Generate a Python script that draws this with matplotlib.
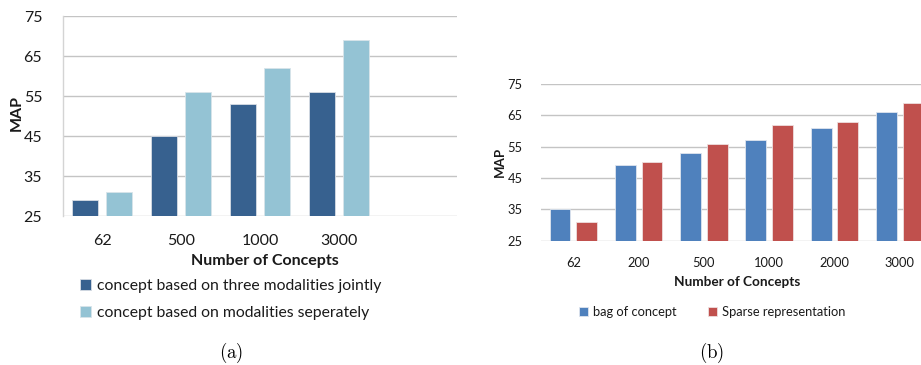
import matplotlib
matplotlib.use("Agg")
import matplotlib.pyplot as plt
import numpy as np

plt.rcParams["font.family"] = ["Lato", "DejaVu Sans"]
plt.rcParams["mathtext.fontset"] = "cm"

# (a) concepts built jointly vs. separately per modality
cats_a = ["62", "500", "1000", "3000", ""]
joint = [29, 45, 53, 56]
separate = [31, 56, 62, 69]
labels_a = ["concept based on three modalities jointly",
            "concept based on modalities seperately"]

# (b) bag of concept vs. sparse representation
cats_b = ["62", "200", "500", "1000", "2000", "3000"]
bag = [35, 49, 53, 57, 61, 66]
sparse = [31, 50, 56, 62, 63, 69]
labels_b = ["bag of concept", "Sparse representation"]

yticks = [25, 35, 45, 55, 65, 75]

W, H = 921, 365
fig = plt.figure(figsize=(W / 100, H / 100), dpi=100)
TXT = "#1a1a1a"


def px_axes(left, right, top, bottom):
    return fig.add_axes([left / W, 1 - bottom / H, (right - left) / W, (bottom - top) / H])


def style(ax, ncat, tick_size, pad, ypad, show_left):
    ax.set_ylim(25, 75)
    ax.set_xlim(-0.5, ncat - 0.5)
    ax.set_yticks(yticks)
    ax.yaxis.grid(True, color="#c4c4c4", linewidth=1.0)
    ax.set_axisbelow(True)
    for s in ["top", "right", "bottom"]:
        ax.spines[s].set_visible(False)
    if show_left:
        ax.spines["left"].set_color("#d4d4d4")
        ax.spines["left"].set_linewidth(1.0)
    else:
        ax.spines["left"].set_visible(False)
    ax.tick_params(axis="both", length=0, labelsize=tick_size, colors=TXT)
    ax.tick_params(axis="x", pad=pad)
    ax.tick_params(axis="y", pad=ypad)


# ---- panel (a) ----
ax1 = px_axes(63, 457, 16, 216)
x1 = np.arange(len(joint))
b1 = ax1.bar(x1 - 0.215, np.array(joint) - 25, 0.33, bottom=25, color="#37618f",
             edgecolor="#d8dde4", linewidth=0.6, label=labels_a[0])
b2 = ax1.bar(x1 + 0.215, np.array(separate) - 25, 0.33, bottom=25, color="#94c3d4",
             edgecolor="#d8e4ea", linewidth=0.6, label=labels_a[1])
style(ax1, len(cats_a), 11.5, 13, 15, True)
ax1.set_xticks(np.arange(len(cats_a)))
ax1.set_xticklabels(cats_a)
fig.text(17 / W, 1 - 113 / H, "MAP", rotation=90, fontsize=11.5, fontweight="bold",
         ha="center", va="center", color=TXT)
fig.text(265 / W, 1 - 261 / H, "Number of Concepts", fontsize=11.5, fontweight="bold",
         ha="center", va="center", color=TXT)
ax1.legend(handles=[b1, b2], loc="upper left", bbox_to_anchor=(66 / W, 1 - 265 / H),
           bbox_transform=fig.transFigure, frameon=False, fontsize=11.3,
           handlelength=0.7, handleheight=0.7, handletextpad=0.4, labelspacing=0.85,
           labelcolor=TXT)
fig.text(231 / W, 1 - 353 / H, r"$\mathrm{(a)}$", fontsize=13.5, ha="center", va="center")

# ---- panel (b) ----
ax2 = px_axes(540.7, 932.5, 84, 240.7)
x2 = np.arange(len(bag))
c1 = ax2.bar(x2 - 0.205, np.array(bag) - 25, 0.32, bottom=25, color="#4f81bd",
             edgecolor="#dfe5ee", linewidth=0.6, label=labels_b[0])
c2 = ax2.bar(x2 + 0.205, np.array(sparse) - 25, 0.32, bottom=25, color="#c0504d",
             edgecolor="#eedfdf", linewidth=0.6, label=labels_b[1])
style(ax2, len(cats_b), 9.3, 12, 13, False)
ax2.set_xticks(x2)
ax2.set_xticklabels(cats_b)
fig.text(500 / W, 1 - 162 / H, "MAP", rotation=90, fontsize=9.5, fontweight="bold",
         ha="center", va="center", color=TXT)
fig.text(737 / W, 1 - 282 / H, "Number of Concepts", fontsize=9.8, fontweight="bold",
         ha="center", va="center", color=TXT)
ax2.legend(handles=[c1, c2], loc="center", bbox_to_anchor=(712 / W, 1 - 312 / H),
           bbox_transform=fig.transFigure, frameon=False, fontsize=9.3, ncol=2,
           handlelength=0.7, handleheight=0.7, handletextpad=0.4, columnspacing=2.4,
           labelcolor=TXT)
fig.text(712 / W, 1 - 353 / H, r"$\mathrm{(b)}$", fontsize=13.5, ha="center", va="center")

fig.savefig("out.png", dpi=100)
